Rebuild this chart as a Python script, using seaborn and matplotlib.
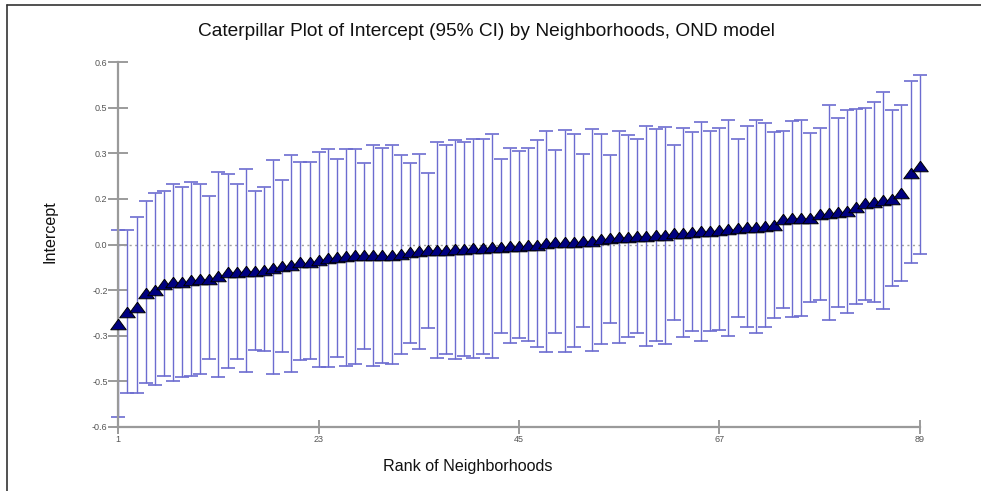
import matplotlib
matplotlib.use("Agg")
import matplotlib.pyplot as plt
import matplotlib.lines as mlines
import numpy as np
import pandas as pd
import seaborn as sns

# ---- data ----
rank = list(range(1, 90))
estimate = [-0.263, -0.223, -0.205, -0.160, -0.151, -0.129, -0.125, -0.123, -0.117, -0.115,
            -0.115, -0.105, -0.091, -0.089, -0.088, -0.088, -0.085, -0.077, -0.072, -0.066,
            -0.059, -0.056, -0.050, -0.044, -0.041, -0.038, -0.035, -0.035, -0.035, -0.033,
            -0.033, -0.030, -0.024, -0.022, -0.019, -0.017, -0.017, -0.016, -0.015, -0.013,
            -0.011, -0.008, -0.008, -0.005, -0.004, -0.002, 0.000, 0.005, 0.007, 0.007,
            0.009, 0.011, 0.013, 0.017, 0.022, 0.025, 0.025, 0.027, 0.029, 0.030,
            0.031, 0.037, 0.039, 0.042, 0.043, 0.045, 0.048, 0.052, 0.054, 0.056,
            0.059, 0.061, 0.064, 0.083, 0.086, 0.086, 0.088, 0.100, 0.103, 0.106,
            0.110, 0.125, 0.136, 0.141, 0.147, 0.150, 0.168, 0.237, 0.260]
lower = [-0.567, -0.489, -0.490, -0.455, -0.463, -0.432, -0.448, -0.436, -0.434, -0.428,
         -0.378, -0.436, -0.408, -0.378, -0.419, -0.348, -0.350, -0.427, -0.355, -0.421,
         -0.380, -0.378, -0.402, -0.403, -0.372, -0.400, -0.392, -0.345, -0.400, -0.389,
         -0.392, -0.359, -0.323, -0.345, -0.274, -0.375, -0.359, -0.378, -0.367, -0.373,
         -0.359, -0.373, -0.290, -0.323, -0.307, -0.318, -0.339, -0.355, -0.293, -0.355,
         -0.337, -0.272, -0.350, -0.327, -0.258, -0.323, -0.306, -0.292, -0.335, -0.317,
         -0.328, -0.247, -0.305, -0.285, -0.317, -0.284, -0.280, -0.302, -0.240, -0.272,
         -0.293, -0.272, -0.242, -0.209, -0.240, -0.235, -0.190, -0.183, -0.249, -0.205,
         -0.225, -0.196, -0.183, -0.190, -0.211, -0.137, -0.120, -0.061, -0.032]
upper = [0.048, 0.048, 0.089, 0.143, 0.171, 0.176, 0.200, 0.190, 0.205, 0.199,
         0.159, 0.238, 0.231, 0.200, 0.249, 0.176, 0.189, 0.279, 0.213, 0.294,
         0.272, 0.273, 0.305, 0.314, 0.283, 0.314, 0.314, 0.270, 0.327, 0.318,
         0.327, 0.294, 0.270, 0.299, 0.236, 0.337, 0.327, 0.344, 0.336, 0.349,
         0.347, 0.364, 0.283, 0.319, 0.308, 0.319, 0.343, 0.373, 0.311, 0.377,
         0.364, 0.299, 0.380, 0.363, 0.296, 0.373, 0.362, 0.346, 0.391, 0.380,
         0.387, 0.327, 0.385, 0.371, 0.404, 0.374, 0.384, 0.411, 0.347, 0.389,
         0.411, 0.399, 0.372, 0.375, 0.408, 0.410, 0.368, 0.383, 0.459, 0.415,
         0.443, 0.446, 0.451, 0.470, 0.501, 0.443, 0.459, 0.538, 0.558]
x_ticks = [1, 23, 45, 67, 89]
y_ticks = [0.6, 0.45, 0.3, 0.15, 0.0, -0.15, -0.3, -0.45, -0.6]
y_ticklabels = ["0.6", "0.5", "0.3", "0.2", "0.0", "-0.2", "-0.3", "-0.5", "-0.6"]

title = "Caterpillar Plot of Intercept (95% CI) by Neighborhoods, OND model"
xlabel = "Rank of Neighborhoods"
ylabel = "Intercept"

df = pd.DataFrame({"rank": rank, "estimate": estimate, "lower": lower, "upper": upper})

sns.set_theme(style="white")
plt.rcParams["font.family"] = ["Liberation Sans", "DejaVu Sans"]

fig = plt.figure(figsize=(9.81, 4.91), dpi=100)
ax = fig.add_axes([118.3 / 981, 1 - 426.7 / 491, (919.7 - 118.3) / 981, (426.7 - 62.3) / 491])

# zero reference line
ax.axhline(0, color="#a0a0a0", lw=1.0, ls=(0, (1.5, 2.5)), zorder=1)

# error bars
bar_color = "#6c6cd0"
eb = ax.errorbar(df["rank"], df["estimate"],
                 yerr=[df["estimate"] - df["lower"], df["upper"] - df["estimate"]],
                 fmt="none", ecolor=bar_color, elinewidth=1.0, capsize=5.0,
                 capthick=1.2, zorder=2)
for c in eb.lines[1]:
    c.set_clip_on(False)
for c in eb.lines[2]:
    c.set_clip_on(False)

# point estimates as wide triangles
tri = [(0, 0.68), (-1, -0.68), (1, -0.68), (0, 0.68)]
sns.scatterplot(data=df, x="rank", y="estimate", marker=tri, s=125,
                color="#000080", edgecolor="black", linewidth=0.7,
                ax=ax, zorder=3, clip_on=False, legend=False)

ax.set_xlim(1, 89)
ax.set_ylim(-0.6, 0.6)
ax.set_xticks(x_ticks)
ax.set_xticklabels([str(v) for v in x_ticks])
ax.set_yticks(y_ticks)
ax.set_yticklabels(y_ticklabels)
ax.set_xlabel("")
ax.set_ylabel("")

for side in ["top", "right"]:
    ax.spines[side].set_visible(False)
for side in ["left", "bottom"]:
    ax.spines[side].set_color("#9a9a9a")
    ax.spines[side].set_linewidth(1.6)

ax.tick_params(axis="y", direction="inout", length=14.4, width=1.2, color="#8a8a8a",
               labelsize=6.5, labelcolor="#555555", pad=0.5, left=True)
ax.tick_params(axis="x", direction="inout", length=9.6, width=1.2, color="#8a8a8a",
               labelsize=6.5, labelcolor="#555555", pad=1.5, bottom=True)
ax.set_facecolor("white")
ax.grid(False)

fig.text(486.5 / 981, 1 - 32 / 491, title, ha="center", va="center", fontsize=13.8, color="#111111")
fig.text(467.5 / 981, 1 - 467 / 491, xlabel, ha="center", va="center", fontsize=11.6, color="#111111")
fig.text(50 / 981, 1 - 232 / 491, ylabel, ha="center", va="center", rotation=90,
         fontsize=11.6, color="#111111")

# window frame lines (top and left)
fig.add_artist(mlines.Line2D([7 / 981, 1], [1 - 4.7 / 491, 1 - 4.7 / 491],
                             transform=fig.transFigure, color="#333333", lw=1.2))
fig.add_artist(mlines.Line2D([7 / 981, 7 / 981], [0, 1 - 4.7 / 491],
                             transform=fig.transFigure, color="#333333", lw=1.2))

fig.savefig("out.png", dpi=100, facecolor="white")
